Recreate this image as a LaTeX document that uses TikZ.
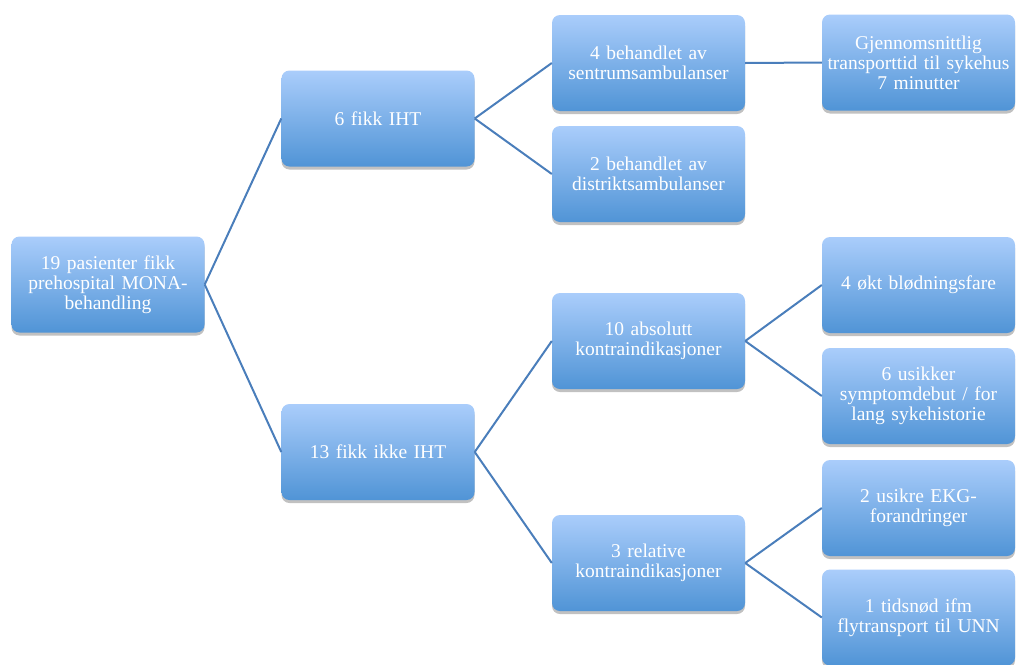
\documentclass[tikz,border=0pt]{standalone}
\usepackage{fontspec}
\setmainfont{Liberation Serif}
\usetikzlibrary{shadows}
\definecolor{btop}{RGB}{170,205,251}
\definecolor{bbot}{RGB}{80,148,214}
\definecolor{lnk}{RGB}{74,126,187}
\begin{document}
\begin{tikzpicture}[x=1pt,y=-1pt,
 box/.style={rounded corners=8pt, top color=btop, bottom color=bbot, draw=none,
   minimum width=193pt, minimum height=96pt, text width=192pt, align=center,
   text=white, font=\fontsize{19.5}{20}\selectfont, inner sep=0pt,
   drop shadow={shadow xshift=0pt, shadow yshift=-3pt, opacity=0.35, fill=black!70}},
 link/.style={draw=lnk, line width=2pt}]
\useasboundingbox (0,0) rectangle (1016,664);
\node[box] (root) at (108,284.5) {19 pasienter fikk\\prehospital MONA-\\behandling};
\node[box] (n6) at (378,118.5) {6 fikk IHT};
\node[box] (n13) at (378,452) {13 fikk ikke IHT};
\node[box] (a4) at (648.5,63) {4 behandlet av\\sentrumsambulanser};
\node[box] (a2) at (648.5,174) {2 behandlet av\\distriktsambulanser};
\node[box] (a10) at (648.5,341) {10 absolutt\\kontraindikasjoner};
\node[box] (a3) at (648.5,563) {3 relative\\kontraindikasjoner};
\node[box] (g) at (918.5,62.5) {Gjennomsnittlig\\transporttid til sykehus\\7 minutter};
\node[box] (o4) at (918.5,285) {4 økt blødningsfare};
\node[box] (u6) at (918.5,396) {6 usikker\\symptomdebut / for\\lang sykehistorie};
\node[box] (e2) at (918.5,508) {2 usikre EKG-\\forandringer};
\node[box] (t1) at (918.5,617.5) {1 tidsnød ifm\\flytransport til UNN};
\draw[link] (root.east) -- (n6.west);
\draw[link] (root.east) -- (n13.west);
\draw[link] (n6.east) -- (a4.west);
\draw[link] (n6.east) -- (a2.west);
\draw[link] (a4.east) -- (g.west);
\draw[link] (n13.east) -- (a10.west);
\draw[link] (n13.east) -- (a3.west);
\draw[link] (a10.east) -- (o4.west);
\draw[link] (a10.east) -- (u6.west);
\draw[link] (a3.east) -- (e2.west);
\draw[link] (a3.east) -- (t1.west);
\end{tikzpicture}
\end{document}
